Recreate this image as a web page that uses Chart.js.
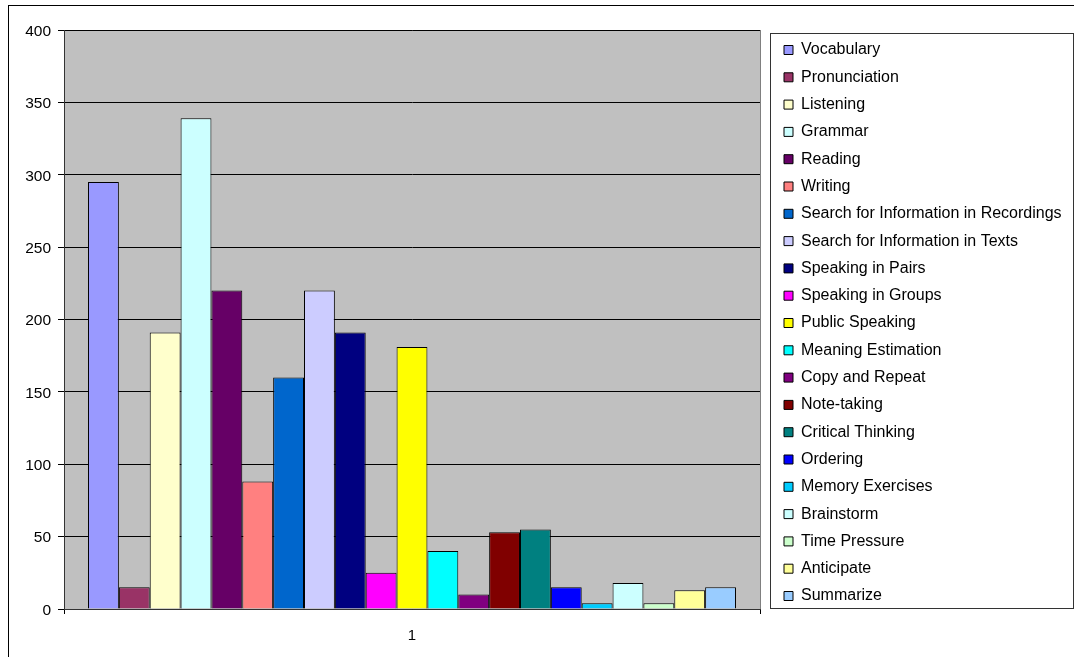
<!DOCTYPE html>
<html>
<head>
<meta charset="utf-8">
<script src="https://cdn.jsdelivr.net/npm/chart.js"></script>
<style>
  body { margin: 0; background: #fff; }
  canvas { display: block; }
</style>
</head>
<body>
<canvas id="chart" width="1074" height="657"></canvas>
<script>
const categories = ['1'];

const seriesNames = [
  'Vocabulary', 'Pronunciation', 'Listening', 'Grammar', 'Reading', 'Writing',
  'Search for Information in Recordings', 'Search for Information in Texts',
  'Speaking in Pairs', 'Speaking in Groups', 'Public Speaking', 'Meaning Estimation',
  'Copy and Repeat', 'Note-taking', 'Critical Thinking', 'Ordering',
  'Memory Exercises', 'Brainstorm', 'Time Pressure', 'Anticipate', 'Summarize'
];

const seriesValues = [
  295, 15, 191, 339, 220, 88,
  160, 220,
  191, 25, 181, 40,
  10, 53, 55, 15,
  4, 18, 4, 13, 15
];

const seriesColors = [
  '#9999FF', '#993366', '#FFFFCC', '#CCFFFF', '#660066', '#FF8080',
  '#0066CC', '#CCCCFF',
  '#000080', '#FF00FF', '#FFFF00', '#00FFFF',
  '#800080', '#800000', '#008080', '#0000FF',
  '#00CCFF', '#CCFFFF', '#CCFFCC', '#FFFF99', '#99CCFF'
];

const yTicks = [0, 50, 100, 150, 200, 250, 300, 350, 400];

const FONT = 'Arial, "Liberation Sans", sans-serif';
const LEGEND_PAD = 11.3;

// plot background, outer frame and legend frame (Excel look)
const frames = {
  id: 'frames',
  beforeInit(chart) {
    const lg = chart.legend;
    const fit = lg.fit;
    lg.fit = function () {
      fit.call(this);
      this.width = 314;
    };
  },
  afterLayout(chart) {
    const lg = chart.legend;
    const dx = 784 - LEGEND_PAD - lg.left;
    const dy = 42 - LEGEND_PAD - lg.top;
    lg.left += dx; lg.right += dx;
    lg.top += dy; lg.bottom += dy;
  },
  beforeDraw(chart) {
    const { ctx, chartArea: a } = chart;
    ctx.save();
    ctx.fillStyle = '#fff';
    ctx.fillRect(0, 0, chart.width, chart.height);
    ctx.fillStyle = '#C0C0C0';
    ctx.fillRect(a.left, a.top, a.right - a.left, a.bottom - a.top);
    ctx.strokeStyle = '#808080';
    ctx.lineWidth = 1;
    ctx.strokeRect(Math.round(a.left) + 0.5, Math.round(a.top) + 0.5,
      Math.round(a.right - a.left), Math.round(a.bottom - a.top));
    ctx.strokeStyle = '#000';
    ctx.strokeRect(8.5, 5.5, 1200, 800);
    ctx.strokeStyle = '#333';
    ctx.strokeRect(770.5, 33.5, 303, 575);
    ctx.restore();
  }
};

new Chart(document.getElementById('chart'), {
  type: 'bar',
  data: {
    labels: categories,
    datasets: seriesNames.map((name, i) => ({
      label: name,
      data: [seriesValues[i]],
      backgroundColor: seriesColors[i],
      borderColor: '#000',
      borderWidth: 1,
      categoryPercentage: 0.931,
      barPercentage: 1.0
    }))
  },
  options: {
    responsive: false,
    animation: false,
    devicePixelRatio: 1,
    layout: { padding: { left: 0, top: 30, right: 0, bottom: 0 } },
    plugins: {
      title: { display: false },
      tooltip: { enabled: false },
      legend: {
        position: 'right',
        align: 'start',
        labels: {
          boxWidth: 9,
          boxHeight: 9,
          padding: LEGEND_PAD,
          color: '#000',
          font: { family: FONT, size: 16 }
        }
      }
    },
    scales: {
      x: {
        afterFit: s => { s.height = 48; },
        grid: { drawOnChartArea: false, drawTicks: true, tickLength: 5, color: '#000' },
        border: { color: '#333' },
        ticks: { color: '#000', padding: 13, font: { family: FONT, size: 15 } }
      },
      y: {
        min: 0,
        max: 400,
        afterFit: s => { s.width = 64; },
        afterBuildTicks: s => { s.ticks = yTicks.map(v => ({ value: v })); },
        grid: { color: '#000', tickLength: 6 },
        border: { color: '#333' },
        ticks: { color: '#000', padding: 7, labelOffset: 1.5, font: { family: FONT, size: 15.5 } }
      }
    }
  },
  plugins: [frames]
});
</script>
</body>
</html>
